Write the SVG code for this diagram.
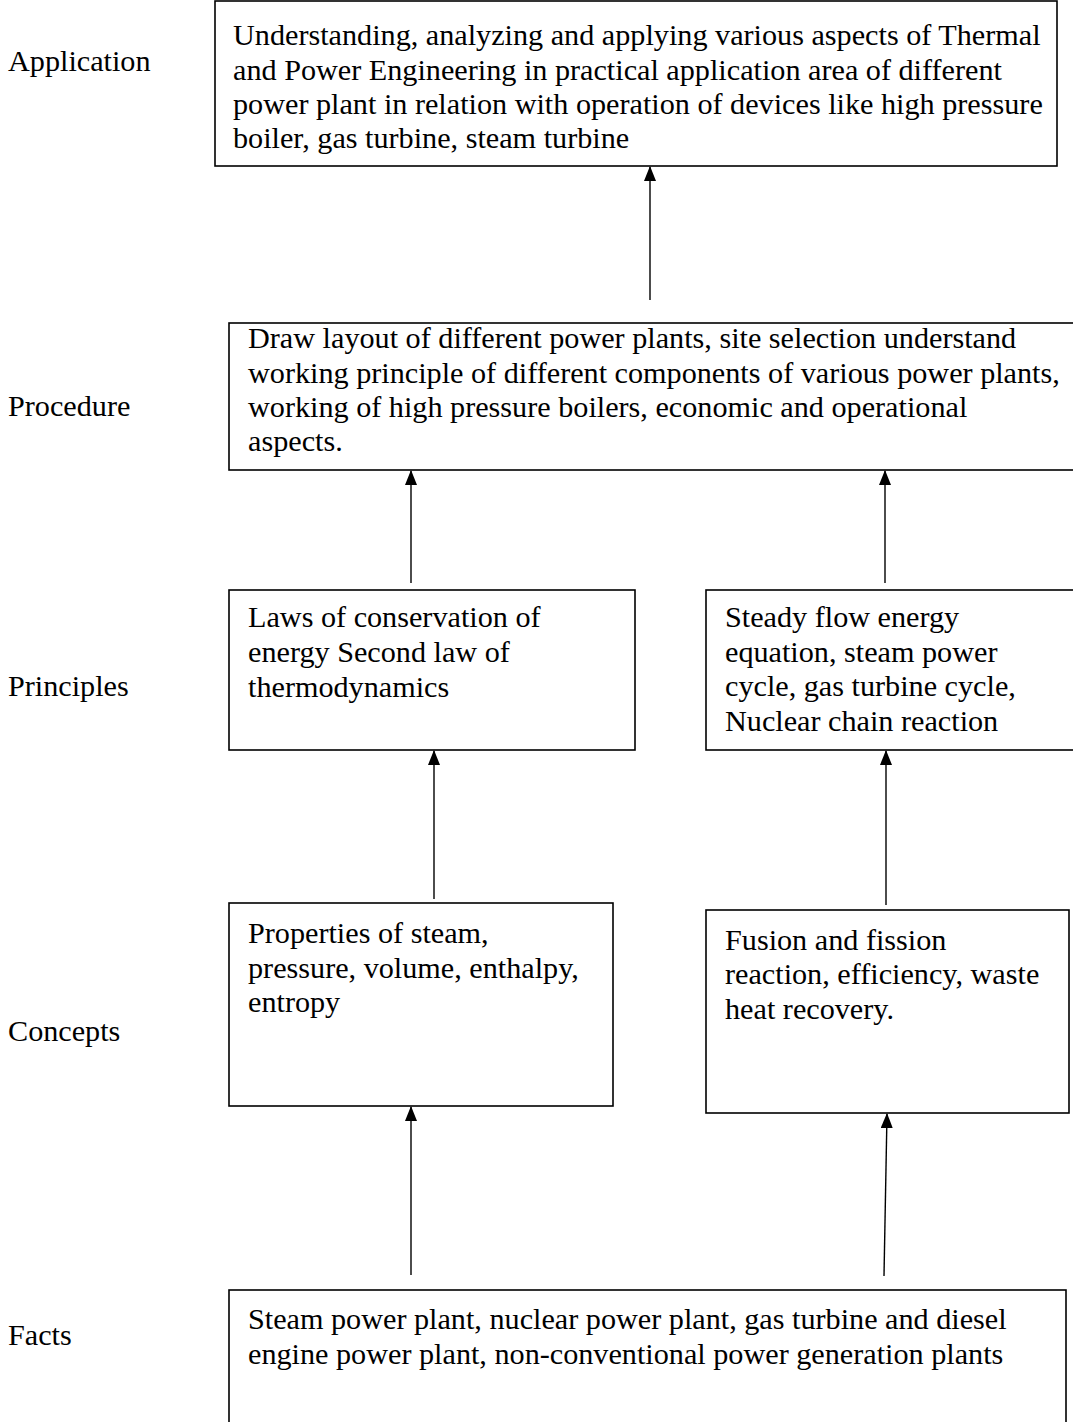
<svg xmlns="http://www.w3.org/2000/svg" width="1073" height="1422" viewBox="0 0 1073 1422">
<style>
  text { font-family: "Liberation Serif", "Times New Roman", serif; font-size: 30.2px; fill: #000; }
  .box { fill: #fff; stroke: #000; stroke-width: 1.6; }
  .conn { stroke: #000; stroke-width: 1.4; fill: none; marker-end: url(#arr); }
</style>
<defs>
  <marker id="arr" viewBox="0 0 15 12" refX="14" refY="6" markerWidth="15" markerHeight="12" markerUnits="userSpaceOnUse" orient="auto">
    <path d="M0,0 L15,6 L0,12 Z" fill="#000"/>
  </marker>
</defs>
<rect width="1073" height="1422" fill="#fff"/>

<g id="labels">
  <text x="8" y="71">Application</text>
  <text x="8" y="416">Procedure</text>
  <text x="8" y="696">Principles</text>
  <text x="8" y="1041">Concepts</text>
  <text x="8" y="1345">Facts</text>
</g>

<g id="connectors">
  <line class="conn" x1="650" y1="300" x2="650" y2="167"/>
  <line class="conn" x1="411" y1="583" x2="411" y2="471"/>
  <line class="conn" x1="885" y1="583" x2="885" y2="471"/>
  <line class="conn" x1="434" y1="899" x2="434" y2="751"/>
  <line class="conn" x1="886" y1="905" x2="886" y2="751"/>
  <line class="conn" x1="411" y1="1275" x2="411" y2="1107"/>
  <line class="conn" x1="884" y1="1276" x2="887" y2="1114"/>
</g>

<g id="node-application">
  <rect class="box" x="215" y="1" width="842" height="165"/>
  <text x="233" y="45">Understanding, analyzing and applying various aspects of Thermal</text>
  <text x="233" y="80">and Power Engineering in practical application area of different</text>
  <text x="233" y="114">power plant in relation with operation of devices like high pressure</text>
  <text x="233" y="148">boiler, gas turbine, steam turbine</text>
</g>

<g id="node-procedure">
  <rect class="box" x="229" y="323" width="850" height="147"/>
  <text x="248" y="348">Draw layout of different power plants, site selection understand</text>
  <text x="248" y="383">working principle of different components of various power plants,</text>
  <text x="248" y="417">working of high pressure boilers, economic and operational</text>
  <text x="248" y="451">aspects.</text>
</g>

<g id="node-principles-left">
  <rect class="box" x="229" y="590" width="406" height="160"/>
  <text x="248" y="627">Laws of conservation of</text>
  <text x="248" y="662">energy Second law of</text>
  <text x="248" y="697">thermodynamics</text>
</g>

<g id="node-principles-right">
  <rect class="box" x="706" y="590" width="373" height="160"/>
  <text x="725" y="627">Steady flow energy</text>
  <text x="725" y="662">equation, steam power</text>
  <text x="725" y="696">cycle, gas turbine cycle,</text>
  <text x="725" y="731">Nuclear chain reaction</text>
</g>

<g id="node-concepts-left">
  <rect class="box" x="229" y="903" width="384" height="203"/>
  <text x="248" y="943">Properties of steam,</text>
  <text x="248" y="978">pressure, volume, enthalpy,</text>
  <text x="248" y="1012">entropy</text>
</g>

<g id="node-concepts-right">
  <rect class="box" x="706" y="910" width="363" height="203"/>
  <text x="725" y="950">Fusion and fission</text>
  <text x="725" y="984">reaction, efficiency, waste</text>
  <text x="725" y="1019">heat recovery.</text>
</g>

<g id="node-facts">
  <rect class="box" x="229" y="1290" width="837" height="140"/>
  <text x="248" y="1329">Steam power plant, nuclear power plant, gas turbine and diesel</text>
  <text x="248" y="1364">engine power plant, non-conventional power generation plants</text>
</g>
</svg>
